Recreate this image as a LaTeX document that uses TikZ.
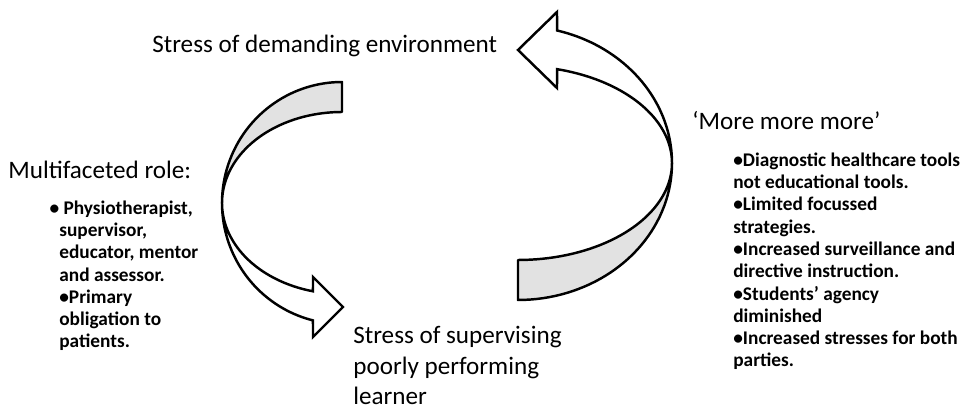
\documentclass[tikz,border=0pt]{standalone}
\usepackage{fontspec}
\setmainfont{Carlito}
\definecolor{backgray}{RGB}{226,226,226}
\usetikzlibrary{positioning}
\tikzset{
  heading/.style={font=\fontsize{14.3}{17.6}\selectfont, inner sep=0pt, align=left, anchor=base west},
  points/.style={font=\bfseries\fontsize{11}{12.7}\selectfont, inner sep=0pt, align=left, anchor=base west},
  backpart/.style={draw=black, line width=1.4pt, fill=backgray, line join=round},
  frontpart/.style={draw=black, line width=1.4pt, fill=white, line join=miter},
}

\begin{document}
\begin{tikzpicture}[x=0.02cm, y=-0.02cm]
  \useasboundingbox (0,0) rectangle (968,408);

  % Left curved arrow (centre 342,203)
  \draw[backpart] plot[domain=270:180, samples=40] ({342+120*cos(\x)},{203+121*sin(\x)})
    -- plot[domain=180:270, samples=40] ({342+120*cos(\x)},{203+91*sin(\x)}) -- cycle;
  \draw[frontpart] plot[domain=180:104, samples=40] ({342+120*cos(\x)},{203+121*sin(\x)})
    -- (313,337) -- (343,307) -- (313,277)
    -- plot[domain=104:180, samples=40] ({342+120*cos(\x)},{203+91*sin(\x)}) -- cycle;

  % Right curved arrow (centre 518,163)
  \draw[backpart] plot[domain=0:90, samples=40] ({518+154*cos(\x)},{163+137*sin(\x)})
    -- plot[domain=90:0, samples=40] ({518+154*cos(\x)},{163+97*sin(\x)}) -- cycle;
  \draw[frontpart] plot[domain=0:-75.3, samples=40] ({518+154*cos(\x)},{163+137*sin(\x)})
    -- (557,12) -- (518,50) -- (557,88)
    -- plot[domain=-75.3:0, samples=40] ({518+154*cos(\x)},{163+97*sin(\x)}) -- cycle;

  % Headings (base = last line)
  \node[heading] (env) at (152,53) {Stress of demanding environment};
  \node[heading] (superv) at (353,405) {Stress of supervising\\poorly performing\\learner};
  \node[heading] (role) at (8,179) {Multifaceted role:};
  \node[heading] (more) at (692,130) {‘More more more’};

  % Bullet lists
  \node[points] (rolelist) at (59,348) {\hspace*{-5.6pt}• Physiotherapist,\\supervisor,\\educator, mentor\\and assessor.\\•Primary\\obligation to\\patients.};
  \node[points] (morelist) at (733,367) {•Diagnostic healthcare tools\\not educational tools.\\•Limited focussed\\strategies.\\•Increased surveillance and\\directive instruction.\\•Students’ agency\\diminished\\•Increased stresses for both\\parties.};
\end{tikzpicture}
\end{document}
